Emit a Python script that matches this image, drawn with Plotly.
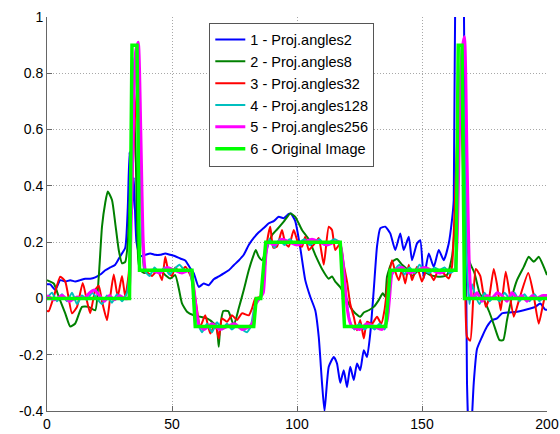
import plotly.graph_objects as go

# ---------------- data ----------------
names = ["1 - Proj.angles2", "2 - Proj.angles8", "3 - Proj.angles32",
         "4 - Proj.angles128", "5 - Proj.angles256", "6 - Original Image"]

x_ticks = [0, 50, 100, 150, 200]
y_ticks = [-0.4, -0.2, 0, 0.2, 0.4, 0.6, 0.8, 1]
y_tick_text = ["-0.4", "-0.2", "0", "0.2", "0.4", "0.6", "0.8", "1"]

blue_x = [0, 1.3, 3.3, 5.3, 7.3, 9.3, 11.3, 13.3, 15.3, 17.3, 19.3, 21.3, 23.3, 25.3, 27.3, 29.3,
          31.3, 32.3, 33, 34, 34.7, 35.8, 37.3, 39.3, 41.3, 43.3, 45.3, 47.3, 49.3, 51.3, 53.3,
          55.3, 57.3, 58.7, 60.7, 62.7, 64.7, 66.7, 68.7, 70.7, 72.7, 74.7, 76.7, 78.7, 80.7,
          82.7, 84.7, 86.7, 88.7, 90.7, 92.7, 94.7, 96.7, 97.5, 99.3, 101.3, 103.3, 105.3, 107.3,
          108.7, 110, 111, 112.7, 114.7, 116, 117.3, 118.7, 120, 121.3, 122.7, 124, 125.3, 126.7,
          128, 129.3, 130.7, 132, 133.3, 135.3, 137.3, 139.3, 141.3, 142.7, 144.7, 146, 148,
          149.3, 150.7, 152.7, 154.7, 156.7, 158.7, 160.7, 162, 162.7, 163.5, 165, 166.7, 168,
          169, 170, 170.7, 172, 174, 176, 178, 180, 182, 184.7, 188, 190.7, 193.3, 195.3, 197.3,
          199.3, 200]
blue_y = [0.05, 0.05, 0.03, 0.065, 0.06, 0.065, 0.06, 0.065, 0.07, 0.07, 0.075, 0.085, 0.1, 0.11,
          0.12, 0.15, 0.18, 0.32, 0.52, 0.3, 0.43, 0.2, 0.15, 0.155, 0.16, 0.155, 0.155, 0.16,
          0.155, 0.15, 0.142, 0.135, 0.107, 0.09, 0.041, 0.053, 0.047, 0.068, 0.078, 0.089, 0.1,
          0.118, 0.135, 0.155, 0.19, 0.215, 0.235, 0.25, 0.267, 0.275, 0.29, 0.285, 0.3, 0.302,
          0.275, 0.18, 0.065, 0.006, -0.042, -0.137, -0.3, -0.4, -0.243, -0.208, -0.231, -0.3,
          -0.255, -0.315, -0.243, -0.29, -0.231, -0.255, -0.184, -0.208, -0.125, 0.03, 0.184,
          0.249, 0.255, 0.231, 0.172, 0.231, 0.172, 0.219, 0.136, 0.195, 0.207, 0.071, 0.16,
          0.112, 0.172, 0.136, 0.195, 0.279, 0.35, 1.3, 1.5, 1.1, -0.3, -0.55, -0.42, -0.3,
          -0.18, -0.137, -0.1, -0.077, -0.071, -0.053, -0.05, -0.047, -0.042, -0.036, -0.03,
          -0.018, -0.04, -0.04]

dkgreen_x = [0, 2.7, 4.7, 7.3, 9.3, 11.3, 14, 16.7, 19.3, 20.7, 22, 23.3, 24.3, 26, 27.3, 28.7,
             30, 31.3, 32.3, 33.3, 34.5, 35.5, 36.5, 37.3, 39, 41, 43, 45.3, 47.3, 49.3, 51.3,
             52.7, 54, 56, 58.7, 61.3, 64, 66.7, 68, 68.7, 69.3, 70.5, 72.5, 74.7, 76.7, 78.7,
             80.7, 82.5, 83.5, 84.7, 86, 88, 90, 92, 94.7, 97.3, 99.3, 102, 104.7, 107.3, 110,
             112.7, 114, 115.3, 117.3, 119.3, 121.3, 123.3, 125.3, 126.7, 128.7, 130.7, 132.7,
             134.3, 135.3, 136, 138, 140, 142, 144, 146, 148, 150, 153.3, 157.3, 160, 162, 163.3,
             164.5, 165.8, 167, 168, 169, 171, 173, 175, 177, 179, 181, 182.5, 184, 186, 188,
             190.7, 192.7, 194.7, 196.7, 198.7, 200]
dkgreen_y = [0.065, 0.053, 0.006, -0.053, -0.1, -0.089, -0.03, -0.03, -0.042, 0.077, 0.255, 0.34,
             0.38, 0.35, 0.267, 0.172, 0.125, 0.13, 0.196, 0.4, 0.75, 0.5, 0.136, 0.1, 0.09, 0.1,
             0.095, 0.1, 0.083, 0.071, 0.083, 0.036, -0.018, -0.047, -0.06, -0.065, -0.071,
             -0.089, -0.11, -0.172, -0.1, -0.045, -0.045, -0.095, -0.035, 0.03, 0.1, 0.15, 0.172,
             0.148, 0.136, 0.18, 0.225, 0.245, 0.273, 0.302, 0.29, 0.243, 0.21, 0.155, 0.105,
             0.07, 0.078, 0.06, 0.04, 0.008, -0.03, -0.053, -0.065, -0.05, -0.042, -0.03, -0.006,
             0.018, 0.006, 0.077, 0.13, 0.14, 0.12, 0.105, 0.08, 0.095, 0.1, 0.083, 0.077, 0.083,
             0.148, 0.29, 0.55, 0.7, 0.4, 0.2, 0.13, 0.09, 0.02, -0.01, -0.05, -0.1, -0.148,
             -0.148, -0.077, 0.006, 0.065, 0.112, 0.148, 0.13, 0.148, 0.112, 0.083]

red_x = [0, 0.7, 2.7, 5.3, 7.3, 10, 12, 14.3, 16, 17.3, 19.3, 20.7, 22, 24, 25.3, 26.7, 28.3, 30,
         31.3, 32.7, 33.7, 35, 36.2, 37.2, 38.2, 39, 40.5, 42, 44.3, 46, 47.3, 48.7, 50, 51.3,
         53.3, 55.3, 57.3, 58.5, 59.5, 61.3, 63.3, 65.3, 67.3, 68.7, 70, 72, 74, 76, 78, 80.7, 82,
         83.3, 85.3, 86.7, 88, 89.3, 90.5, 92, 94, 95.3, 96.7, 98.7, 100.7, 102, 103.3, 104.7,
         106, 107.5, 108.7, 110.7, 112.7, 114, 115.3, 117.3, 118.7, 120, 121.3, 122.7, 124,
         125.3, 126.7, 128, 130, 132, 133.7, 135, 136.3, 138, 139.3, 140.7, 142, 143.3, 144.7,
         146, 148, 150, 152, 154.7, 156.5, 158.5, 160.7, 162, 163, 164.2, 165.3, 166.3, 167.2,
         168, 169.3, 170.5, 171.5, 173.3, 175.5, 176.8, 178.7, 180, 181.5, 183.5, 186.7, 189,
         192.5, 194.5, 196.7, 199, 200]
red_y = [-0.045, -0.045, 0.006, 0.077, 0.06, -0.053, -0.03, 0.055, -0.01, -0.053, 0.03, 0.045,
         -0.01, -0.077, 0.006, 0.085, 0.006, 0.08, 0.006, 0.09, 0.3, 0.62, 0.75, 0.55, 0.2, 0.095,
         0.09, 0.08, 0.1, 0.065, 0.148, 0.09, 0.08, 0.11, 0.09, 0.113, 0.083, 0.05, -0.01, -0.1,
         -0.06, -0.125, -0.089, -0.142, -0.071, -0.083, -0.06, -0.077, -0.053, -0.06, -0.036, 0.0,
         0.006, 0.065, 0.2, 0.255, 0.18, 0.184, 0.243, 0.196, 0.184, 0.243, 0.19, 0.184, 0.219,
         0.172, 0.184, 0.2, 0.215, 0.12, 0.255, 0.243, 0.172, 0.195, 0.12, 0.06, -0.02, -0.065,
         -0.113, -0.077, -0.142, -0.083, -0.09, -0.065, -0.09, -0.042, 0.053, 0.136, 0.095, 0.065,
         0.1, 0.053, 0.12, 0.065, 0.113, 0.06, 0.11, 0.065, 0.1, 0.09, 0.071, 0.113, 0.3, 0.6,
         0.72, 0.5, 0.1, -0.137, -0.15, 0.0, 0.105, 0.08, -0.03, 0.0, 0.105, 0.05, -0.042, 0.095,
         -0.065, 0.0, 0.09, 0.02, -0.09, 0.0, 0.01]

cyan_x = [0, 2, 4, 6, 8, 10, 12, 14, 16, 18, 20, 22, 24, 26, 28, 30, 32, 33, 34, 35, 36, 37, 38,
          39, 41, 43, 45, 47, 49, 51, 53, 55, 57, 58.5, 60, 62, 64, 66, 68, 70, 72, 74, 76, 78, 80,
          81.5, 83, 85, 86.5, 87.5, 89, 91, 93, 95, 97, 99, 101, 103, 105, 107, 109, 111, 113, 115,
          117, 118.5, 120, 121.5, 123, 125, 127, 129, 131, 133, 135, 136.5, 137.5, 139, 141, 143,
          145, 147, 149, 151, 153, 155, 157, 159, 161, 163, 164, 165, 166, 167, 168, 169, 170, 171,
          173, 175, 177, 179, 181, 183, 185, 187, 189, 191, 193, 195, 197, 199, 200]
cyan_y = [0.0, 0.02, -0.01, 0.015, -0.01, 0.02, -0.02, 0.01, -0.005, 0.02, 0.0, -0.02, 0.01,
          -0.015, 0.015, -0.01, 0.02, 0.1, 0.5, 0.85, 0.88, 0.7, 0.25, 0.1, 0.08, 0.11, 0.09, 0.11,
          0.085, 0.105, 0.12, 0.1, 0.095, 0.03, -0.08, -0.12, -0.09, -0.12, -0.085, -0.11, -0.09,
          -0.11, -0.095, -0.11, -0.12, -0.1, -0.03, 0.0, 0.03, 0.15, 0.21, 0.18, 0.21, 0.19, 0.21,
          0.195, 0.2, 0.21, 0.19, 0.2, 0.21, 0.19, 0.2, 0.21, 0.2, 0.13, -0.02, -0.09, -0.11, -0.09,
          -0.11, -0.095, -0.11, -0.09, -0.11, -0.05, 0.07, 0.1, 0.12, 0.085, 0.11, 0.09, 0.12, 0.1,
          0.09, 0.11, 0.1, 0.11, 0.09, 0.1, 0.3, 0.75, 0.88, 0.6, 0.12, -0.02, 0.05, 0.02, -0.02,
          0.02, -0.01, 0.01, -0.01, 0.02, 0.0, 0.02, -0.01, 0.015, -0.01, 0.015, -0.01, 0.01, 0.0]

magenta_x = [0, 3, 6, 9, 12, 15, 17, 19, 21, 23, 25, 27, 29, 31, 32.5, 33.5, 34.5, 35.5, 36.5,
             37.5, 38.5, 39.5, 42, 45, 48, 51, 54, 57, 58.5, 60, 61, 63, 66, 69, 72, 75, 78, 81,
             82.5, 83.5, 85, 86.5, 87.5, 88.5, 91, 94, 97, 100, 103, 106, 109, 112, 115, 117, 118,
             119, 120, 121, 122, 125, 128, 131, 134, 136, 137, 138, 139, 142, 145, 148, 151, 154,
             157, 160, 163, 164, 165, 166, 167, 168, 169, 170, 172, 174, 176, 178, 180, 182, 184,
             186, 188, 190, 192, 194, 196, 198, 200]
magenta_y = [0.01, -0.005, 0.01, -0.01, 0.005, 0.0, 0.02, 0.03, 0.01, -0.01, 0.01, -0.005, 0.01,
             0.0, 0.0, 0.2, 0.6, 0.88, 0.91, 0.6, 0.2, 0.1, 0.1, 0.09, 0.11, 0.1, 0.09, 0.1, 0.05,
             -0.06, -0.1, -0.11, -0.09, -0.11, -0.1, -0.09, -0.11, -0.1, -0.08, -0.02, 0.0, 0.02,
             0.15, 0.2, 0.19, 0.21, 0.2, 0.19, 0.2, 0.21, 0.2, 0.19, 0.2, 0.2, 0.16, 0.06, -0.03,
             -0.08, -0.1, -0.11, -0.09, -0.1, -0.11, -0.08, 0.0, 0.09, 0.1, 0.11, 0.09, 0.1, 0.11,
             0.1, 0.09, 0.1, 0.1, 0.2, 0.6, 0.88, 0.93, 0.5, 0.1, 0.0, 0.02, -0.01, 0.01, 0.0, 0.02,
             0.01, -0.01, 0.02, 0.0, 0.01, -0.01, 0.01, 0.0, 0.01, 0.01]

orig_x = [0, 33, 34, 36, 37, 58, 59.3, 82.7, 83.7, 85.5, 87.5, 117.3, 119, 135.5, 137.3, 163.6,
          164.5, 166, 167, 200]
orig_y = [0, 0, 0.9, 0.9, 0.1, 0.1, -0.1, -0.1, 0, 0, 0.2, 0.2, -0.1, -0.1, 0.1, 0.1, 0.9, 0.9,
          0, 0]

series_x = [blue_x, dkgreen_x, red_x, cyan_x, magenta_x, orig_x]
series_y = [blue_y, dkgreen_y, red_y, cyan_y, magenta_y, orig_y]

# ---------------- styles ----------------
colors = ["#0000FF", "#008000", "#FF0000", "#00BFBF", "#FF00FF", "#00FF00"]
widths = [2, 2, 2, 2, 3, 3.5]
shapes = ["spline", "spline", "spline", "spline", "spline", "linear"]

fig = go.Figure()
for nm, xs, ys, c, w, sh in zip(names, series_x, series_y, colors, widths, shapes):
    fig.add_trace(go.Scatter(x=xs, y=ys, mode="lines", name=nm,
                             line=dict(color=c, width=w, shape=sh, smoothing=0.5)))

font_family = "Liberation Sans, Arial, Helvetica, sans-serif"
axis_common = dict(showline=True, linecolor="#666666", linewidth=1, ticks="inside",
                   ticklen=5, tickcolor="#666666", showgrid=True, gridcolor="#a8a8a8",
                   griddash="1px,2px", gridwidth=1, zeroline=False, mirror=False,
                   tickfont=dict(family=font_family, size=14, color="black"))

fig.update_layout(
    width=560, height=434,
    margin=dict(l=47, r=13, t=17, b=23),
    paper_bgcolor="white", plot_bgcolor="white",
    template="none",
    font=dict(family=font_family, size=14, color="black"),
    xaxis=dict(range=[0, 200], tickvals=x_ticks, ticktext=[str(v) for v in x_ticks],
               **axis_common),
    yaxis=dict(range=[-0.4, 1], tickvals=y_ticks, ticktext=y_tick_text, **axis_common),
    legend=dict(x=0.3246, y=0.986, xanchor="left", yanchor="top",
                bgcolor="white", bordercolor="#555555", borderwidth=1,
                font=dict(family=font_family, size=14.5, color="black"),
                itemwidth=30, tracegroupgap=0),
    showlegend=True,
)

fig.write_html("out.html")
